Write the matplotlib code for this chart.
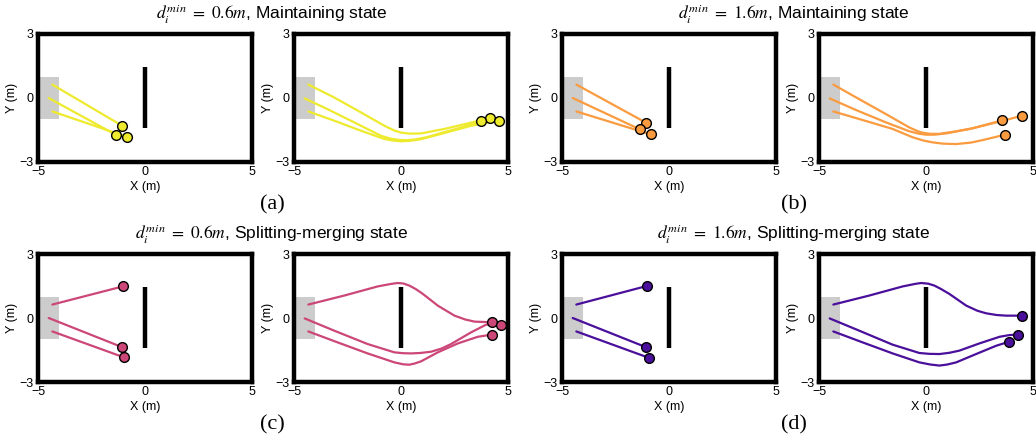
import matplotlib.pyplot as plt
from matplotlib.patches import Rectangle

plt.rcParams['font.family'] = ['Liberation Sans', 'DejaVu Sans']
plt.rcParams['mathtext.fontset'] = 'stix'

# start area and the wall in the middle of the arena
start_box = (-5.0, -1.0, 1.0, 2.0)
wall_x = 0.0
wall_y = (-1.4, 1.45)

colors = ['#eeea2e', '#fb9b3f', '#cc4778', '#4a0f9b']

# trajectories per panel: list of (xs, ys) for the three agents
traj_a1 = [([-4.33, -1.07], [0.63, -1.30]),
           ([-4.50, -1.34], [0.00, -1.74]),
           ([-4.33, -0.84], [-0.63, -1.82])]
traj_a2 = [([-4.33, -3.13, -1.88, -0.78, -0.30, 0.00, 0.40, 0.94, 2.03, 3.13, 4.14],
            [0.63, 0.03, -0.67, -1.30, -1.53, -1.62, -1.67, -1.66, -1.45, -1.19, -0.94]),
           ([-4.50, -3.44, -2.19, -0.94, -0.50, -0.16, 0.20, 0.63, 1.20, 1.72, 2.81, 3.75],
            [-0.02, -0.52, -1.14, -1.77, -1.90, -1.96, -1.98, -1.95, -1.84, -1.69, -1.38, -1.09]),
           ([-4.33, -3.13, -1.88, -0.78, -0.40, 0.00, 0.40, 0.94, 2.03, 3.28, 4.56],
            [-0.63, -1.06, -1.53, -1.92, -1.99, -2.03, -2.01, -1.93, -1.64, -1.30, -1.06])]
traj_b1 = [([-4.33, -1.09], [0.63, -1.15]),
           ([-4.50, -1.36], [0.00, -1.47]),
           ([-4.33, -0.84], [-0.63, -1.71])]
traj_b2 = [([-4.33, -3.13, -1.88, -0.78, -0.40, -0.16, 0.20, 0.63, 1.30, 2.03, 3.55, 4.48],
            [0.63, -0.05, -0.75, -1.38, -1.55, -1.63, -1.68, -1.68, -1.58, -1.45, -1.08, -0.83]),
           ([-4.50, -3.28, -1.88, -0.78, -0.35, 0.00, 0.40, 0.94, 2.19, 3.55],
            [-0.02, -0.56, -1.14, -1.56, -1.67, -1.72, -1.72, -1.66, -1.42, -1.05]),
           ([-4.33, -2.97, -1.56, -0.63, -0.10, 0.31, 0.80, 1.41, 2.10, 2.66, 3.69],
            [-0.63, -1.03, -1.45, -1.84, -2.00, -2.08, -2.14, -2.16, -2.09, -1.97, -1.72])]
traj_c1 = [([-4.33, -1.04], [0.63, 1.48]),
           ([-4.50, -1.06], [0.00, -1.37]),
           ([-4.33, -0.97], [-0.63, -1.85])]
traj_c2 = [([-4.33, -2.66, -1.09, -0.45, -0.16, 0.10, 0.39, 0.70, 1.02, 1.72, 2.50, 3.00, 3.44, 4.23],
            [0.63, 1.05, 1.48, 1.60, 1.64, 1.62, 1.52, 1.35, 1.13, 0.58, 0.11, -0.07, -0.17, -0.20]),
           ([-4.50, -3.13, -1.56, -0.31, 0.10, 0.47, 0.90, 1.41, 1.90, 2.34, 3.28, 3.98, 4.66],
            [-0.02, -0.59, -1.22, -1.61, -1.65, -1.66, -1.64, -1.58, -1.43, -1.22, -0.67, -0.31, -0.33]),
           ([-4.33, -2.97, -1.56, -0.31, 0.10, 0.39, 0.65, 0.94, 1.72, 2.66, 3.59, 4.23],
            [-0.63, -1.14, -1.66, -2.08, -2.17, -2.19, -2.13, -2.03, -1.61, -1.19, -0.88, -0.78])]
traj_d1 = [([-4.33, -1.04], [0.63, 1.50]),
           ([-4.50, -1.07], [0.00, -1.37]),
           ([-4.33, -0.93], [-0.63, -1.87])]
traj_d2 = [([-4.33, -2.66, -1.09, -0.50, -0.23, 0.10, 0.39, 0.70, 1.09, 1.88, 2.40, 2.81, 3.30, 3.75, 4.48],
            [0.63, 1.05, 1.48, 1.60, 1.64, 1.61, 1.52, 1.36, 1.13, 0.58, 0.34, 0.22, 0.14, 0.11, 0.11]),
           ([-4.50, -3.13, -1.56, -0.31, 0.15, 0.63, 1.10, 1.56, 2.50, 3.44, 3.90, 4.30],
            [-0.02, -0.59, -1.25, -1.64, -1.68, -1.69, -1.63, -1.53, -1.19, -0.88, -0.80, -0.78]),
           ([-4.33, -2.97, -1.56, -0.31, 0.20, 0.63, 1.00, 1.41, 2.34, 3.28, 3.89],
            [-0.63, -1.14, -1.66, -2.08, -2.18, -2.23, -2.18, -2.08, -1.69, -1.30, -1.11])]

panels = [traj_a1, traj_a2, traj_b1, traj_b2,
          traj_c1, traj_c2, traj_d1, traj_d2]
panel_colors = [colors[0], colors[0], colors[1], colors[1],
                colors[2], colors[2], colors[3], colors[3]]

titles = [r'$d_i^{min}\ =\ 0.6m$, Maintaining state',
          r'$d_i^{min}\ =\ 1.6m$, Maintaining state',
          r'$d_i^{min}\ =\ 0.6m$, Splitting-merging state',
          r'$d_i^{min}\ =\ 1.6m$, Splitting-merging state']
tags = ['(a)', '(b)', '(c)', '(d)']

fig = plt.figure(figsize=(10.36, 4.40), dpi=100)

lefts = [38, 294, 562, 819]
tops = [34, 254]
W, H = 1036, 440

for k, traj in enumerate(panels):
    row, col = divmod(k, 4)
    ax = fig.add_axes([lefts[col] / W, 1 - (tops[row] + 128) / H,
                       214 / W, 128 / H])
    ax.add_patch(Rectangle(start_box[:2], start_box[2], start_box[3],
                           facecolor='#cccccc', edgecolor='none', zorder=1))
    ax.plot([wall_x, wall_x], wall_y, color='black', lw=3.2,
            solid_capstyle='butt', zorder=2)
    c = panel_colors[k]
    for xs, ys in traj:
        ax.plot(xs, ys, color=c, lw=1.6, zorder=3,
                solid_capstyle='round', solid_joinstyle='round')
        ax.plot(xs[-1], ys[-1], 'o', ms=7, mfc=c, mec='black', mew=1.0,
                zorder=4)
    ax.set_xlim(-5, 5)
    ax.set_ylim(-3, 3)
    ax.set_xticks([-5, 0, 5])
    ax.set_yticks([-3, 0, 3])
    ax.tick_params(length=0, labelsize=9, pad=3)
    for s in ax.spines.values():
        s.set_linewidth(3.2)
    ax.set_xlabel('X (m)', fontsize=9, labelpad=2)
    ax.set_ylabel('Y (m)', fontsize=9, labelpad=1)

centers = [272, 794]
for i, t in enumerate(titles):
    row, col = divmod(i, 2)
    fig.text(centers[col] / W, 1 - (14 + 220 * row) / H, t,
             ha='center', va='center', fontsize=12.5)
    fig.text(centers[col] / W, 1 - (205 + 220 * row) / H, tags[i],
             ha='center', va='center', fontsize=16,
             family='Liberation Serif')

fig.savefig('out.png', dpi=100)
